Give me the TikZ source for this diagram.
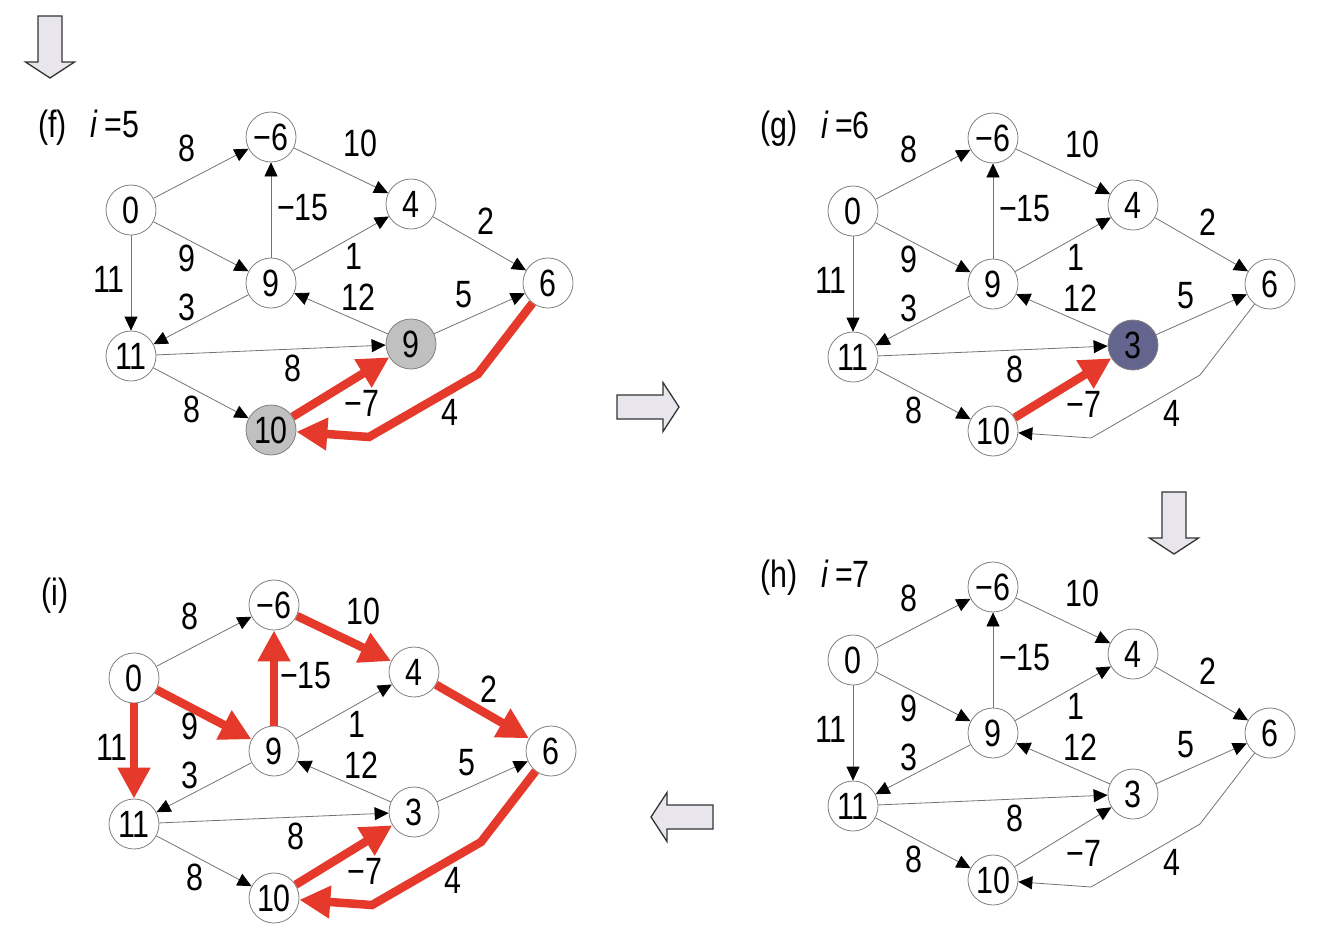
\documentclass[tikz,border=0pt]{standalone}
\usepackage{fontspec}
\setmainfont{Liberation Sans}[FakeStretch=0.8]
\usetikzlibrary{arrows.meta}
\definecolor{hotred}{HTML}{E4392B}
\definecolor{visited}{HTML}{C0C0C0}
\definecolor{current}{HTML}{64658F}
\definecolor{arrowfill}{HTML}{E8E5EC}
\colorlet{edgegray}{black!55}
\colorlet{ringgray}{black!50}

% per-edge and per-node hooks, switched on panel by panel
\tikzset{
    e/src-top/.style={}, e/src-mid/.style={}, e/src-wst/.style={},
    e/top-rt/.style={},  e/mid-top/.style={}, e/mid-rt/.style={},
    e/rt-far/.style={},  e/mid-wst/.style={}, e/low-mid/.style={},
    e/low-far/.style={}, e/wst-low/.style={}, e/wst-bot/.style={},
    e/bot-low/.style={}, e/far-bot/.style={},
    lowfill/.style={}, botfill/.style={},
}

\begin{document}
\begin{tikzpicture}[
    x=1pt, y=-1pt,
    font=\fontsize{38}{40}\selectfont,
    vert/.style={circle, draw=ringgray, line width=0.8pt, fill=white,
                 minimum size=50pt, inner sep=0pt},
    wlabel/.style={inner sep=0pt},
    title/.style={anchor=west, inner sep=0pt},
    edge/.style={draw=edgegray, line width=0.8pt,
                 -{Triangle[length=14pt, width=13pt, color=black]}},
    hot/.style={draw=hotred, line width=8.5pt,
                -{Triangle[length=31pt, width=31pt]}},
    blockarrow/.style={draw=black!80, line width=1.3pt, fill=arrowfill,
                       line join=miter},
]

\useasboundingbox (0,0) rectangle (1332,930);

% Hollow block arrow: #1 x, #2 y, #3 angle
\newcommand{\flowarrow}[3]{
    \draw[blockarrow, shift={(#1,#2)}, rotate=#3]
        (0,-12) -- (46,-12) -- (46,-24.5) -- (62,0) -- (46,24.5)
        -- (46,12) -- (0,12) -- cycle;
}

% Graph panel macro: #1 x, #2 y, #3 prefix, #4 title,
%                    #5 value at low node, #6 overrides
\newcommand{\bfpanel}[6]{
    \begin{scope}[shift={(#1,#2)}, name prefix=#3-, #6]
        \node[title] (ttl) at (38,128) {#4};
        \node[vert] (src) at (131,210) {0};
        \node[vert] (top) at (271,137) {−6};
        \node[vert] (rt)  at (411,204) {4};
        \node[vert] (mid) at (271,283) {9};
        \node[vert] (far) at (548,283) {6};
        \node[vert] (wst) at (131,356) {11};
        \node[vert, lowfill] (low) at (411,344) {#5};
        \node[vert, botfill] (bot) at (271,430) {10};
        \coordinate (k1) at (478,374);
        \coordinate (k2) at (369,437);
        \draw[edge, e/src-top] (src) -- (top);
        \draw[edge, e/src-mid] (src) -- (mid);
        \draw[edge, e/src-wst] (src) -- (wst);
        \draw[edge, e/top-rt]  (top) -- (rt);
        \draw[edge, e/mid-top] (mid) -- (top);
        \draw[edge, e/mid-rt]  (mid) -- (rt);
        \draw[edge, e/rt-far]  (rt) -- (far);
        \draw[edge, e/mid-wst] (mid) -- (wst);
        \draw[edge, e/low-mid] (low) -- (mid);
        \draw[edge, e/low-far] (low) -- (far);
        \draw[edge, e/wst-low] (wst) -- (low);
        \draw[edge, e/wst-bot] (wst) -- (bot);
        \draw[edge, e/bot-low] (bot) -- (low);
        \draw[edge, e/far-bot, line join=miter] (far) -- (k1) -- (k2) -- (bot);
        \foreach \lx/\ly/\lt [count=\k] in {187/148/8, 360/143/10,
                303/208/−15, 486/221/2, 187/258/9, 354/256/1, 109/279/11,
                187/307/3, 358/297/12, 464/295/5, 293/368/8, 192/409/8,
                362/403/−7, 450/412/4}
            \node[wlabel] (w\k) at (\lx,\ly) {\lt};
    \end{scope}
}

% flow between the panels
\flowarrow{50}{16}{-90}
\flowarrow{617}{407}{0}
\flowarrow{1174}{492}{-90}
\flowarrow{713}{817}{180}

\bfpanel{0}{0}{f}{(f)\hspace{24pt}\textit{i}\,=5}{9}
    {e/bot-low/.style=hot, e/far-bot/.style=hot,
     lowfill/.style={fill=visited}, botfill/.style={fill=visited}}

\bfpanel{722}{1}{g}{(g)\hspace{24pt}\textit{i}\,=6}{3}
    {e/bot-low/.style=hot, lowfill/.style={fill=current}}

\bfpanel{722}{450}{h}{(h)\hspace{24pt}\textit{i}\,=7}{3}{}

\bfpanel{3}{468}{i}{(i)}{3}
    {e/src-mid/.style=hot, e/src-wst/.style=hot, e/mid-top/.style=hot,
     e/top-rt/.style=hot, e/rt-far/.style=hot, e/far-bot/.style=hot,
     e/bot-low/.style=hot}

\end{tikzpicture}
\end{document}
